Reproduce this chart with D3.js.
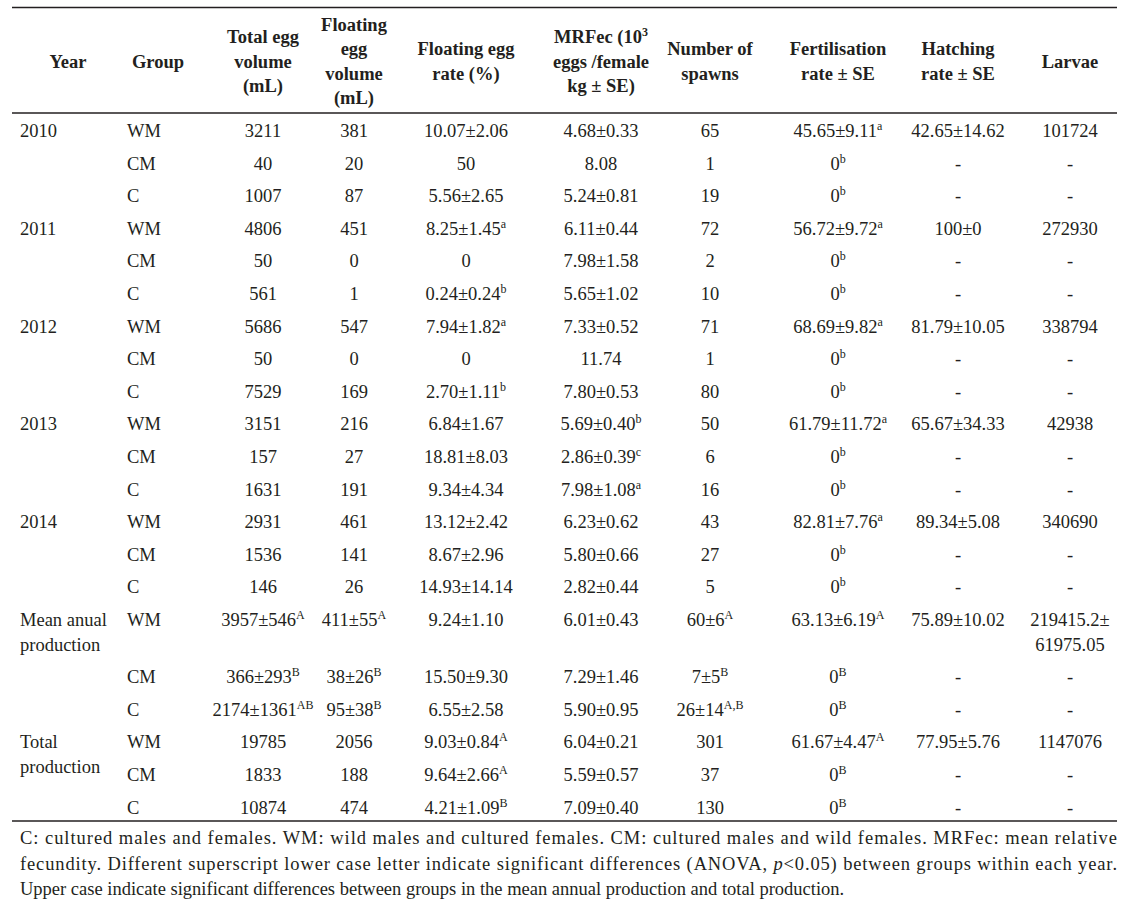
<!DOCTYPE html>
<html>
<head>
<meta charset="utf-8">
<script src="https://cdn.jsdelivr.net/npm/d3@7"></script>
<style>
  body { margin: 0; background: #fff; }
  svg { display: block; }
  text { font-family: "Liberation Serif", "Times New Roman", serif; fill: #231f20; }
</style>
</head>
<body>
<svg width="1127" height="903"></svg>
<script>
// Données du tableau ("^" = exposant, "|" = retour à la ligne)
const yearLabels = ["2010", "2011", "2012", "2013", "2014", "Mean anual|production", "Total|production"];
const groupLabels = ["WM", "CM", "C"];

const headers = [
  ["Year"], ["Group"], ["Total egg", "volume", "(mL)"], ["Floating", "egg", "volume", "(mL)"],
  ["Floating egg", "rate (%)"], ["MRFec (10^3", "eggs /female", "kg ± SE)"], ["Number of", "spawns"],
  ["Fertilisation", "rate ± SE"], ["Hatching", "rate ± SE"], ["Larvae"]
];

const totalEggVolume = ["3211", "40", "1007", "4806", "50", "561", "5686", "50", "7529", "3151", "157", "1631",
  "2931", "1536", "146", "3957±546^A", "366±293^B", "2174±1361^AB", "19785", "1833", "10874"];
const floatingEggVolume = ["381", "20", "87", "451", "0", "1", "547", "0", "169", "216", "27", "191",
  "461", "141", "26", "411±55^A", "38±26^B", "95±38^B", "2056", "188", "474"];
const floatingEggRate = ["10.07±2.06", "50", "5.56±2.65", "8.25±1.45^a", "0", "0.24±0.24^b", "7.94±1.82^a", "0",
  "2.70±1.11^b", "6.84±1.67", "18.81±8.03", "9.34±4.34", "13.12±2.42", "8.67±2.96", "14.93±14.14",
  "9.24±1.10", "15.50±9.30", "6.55±2.58", "9.03±0.84^A", "9.64±2.66^A", "4.21±1.09^B"];
const mrfec = ["4.68±0.33", "8.08", "5.24±0.81", "6.11±0.44", "7.98±1.58", "5.65±1.02", "7.33±0.52", "11.74",
  "7.80±0.53", "5.69±0.40^b", "2.86±0.39^c", "7.98±1.08^a", "6.23±0.62", "5.80±0.66", "2.82±0.44",
  "6.01±0.43", "7.29±1.46", "5.90±0.95", "6.04±0.21", "5.59±0.57", "7.09±0.40"];
const spawns = ["65", "1", "19", "72", "2", "10", "71", "1", "80", "50", "6", "16", "43", "27", "5",
  "60±6^A", "7±5^B", "26±14^A,B", "301", "37", "130"];
const fertilisation = ["45.65±9.11^a", "0^b", "0^b", "56.72±9.72^a", "0^b", "0^b", "68.69±9.82^a", "0^b", "0^b",
  "61.79±11.72^a", "0^b", "0^b", "82.81±7.76^a", "0^b", "0^b", "63.13±6.19^A", "0^B", "0^B",
  "61.67±4.47^A", "0^B", "0^B"];
const hatching = ["42.65±14.62", "-", "-", "100±0", "-", "-", "81.79±10.05", "-", "-", "65.67±34.33", "-", "-",
  "89.34±5.08", "-", "-", "75.89±10.02", "-", "-", "77.95±5.76", "-", "-"];
const larvae = ["101724", "-", "-", "272930", "-", "-", "338794", "-", "-", "42938", "-", "-",
  "340690", "-", "-", "219415.2±|61975.05", "-", "-", "1147076", "-", "-"];

const footerLines = [
  "C: cultured males and females. WM: wild males and cultured females. CM: cultured males and wild females. MRFec: mean relative",
  "fecundity. Different superscript lower case letter indicate significant differences (ANOVA, _p_<0.05) between groups within each year.",
  "Upper case indicate significant differences between groups in the mean annual production and total production."
];

// Mise en page
const svg = d3.select("svg");
const fontSize = 18.5, supSize = 12, lineGap = 24.5;
const left = 12, right = 1117;

const dataCols = [totalEggVolume, floatingEggVolume, floatingEggRate, mrfec, spawns, fertilisation, hatching, larvae];
const colKeys = d3.range(headers.length);
const xCol = d3.scaleOrdinal().domain(colKeys)
  .range([68, 158, 263, 354, 466, 601, 710, 838, 958, 1070]);

// Hauteurs de lignes (la ligne moyenne WM occupe deux lignes de texte)
const nRows = totalEggVolume.length;
const rowHeights = d3.range(nRows).map(i => i === 15 ? 32.6 + lineGap : 32.6);
const rowTop = [0, ...d3.cumsum(rowHeights)];
const yRow = d3.scaleLinear().domain([0, 1]).range([137, 138]);
const baseline = i => yRow(rowTop[i]);

function addText(g, x, y, str, anchor, bold) {
  const t = g.append("text")
    .attr("x", x).attr("y", y)
    .attr("text-anchor", anchor)
    .style("font-size", fontSize + "px")
    .style("font-weight", bold ? "bold" : "normal");
  const [main, sup] = str.split("^");
  t.append("tspan").text(main);
  if (sup) {
    t.append("tspan").attr("dy", -7).style("font-size", supSize + "px").text(sup);
  }
  return t;
}

// Lignes horizontales
[7.5, 113, 821].forEach(y => {
  svg.append("line").attr("x1", left).attr("x2", right).attr("y1", y).attr("y2", y)
    .attr("stroke", "#231f20").attr("stroke-width", 1.3);
});

// En-têtes
const head = svg.append("g");
headers.forEach((lines, c) => {
  const y0 = 61 - (lines.length - 1) * lineGap / 2 + 6.5;
  lines.forEach((l, k) => addText(head, xCol(c), y0 + k * lineGap, l, "middle", true));
});

// Colonne année
const body = svg.append("g");
yearLabels.forEach((lab, k) => {
  lab.split("|").forEach((l, j) => addText(body, 20, baseline(k * 3) + j * lineGap, l, "start", false));
});

// Colonne groupe
d3.range(nRows).forEach(i => addText(body, 127, baseline(i), groupLabels[i % 3], "start", false));

// Colonnes de valeurs
dataCols.forEach((vals, c) => {
  vals.forEach((v, i) => {
    v.split("|").forEach((l, j) => addText(body, xCol(c + 2), baseline(i) + j * lineGap, l, "middle", false));
  });
});

// Note de bas de tableau
const foot = svg.append("g");
footerLines.forEach((line, k) => {
  const t = foot.append("text")
    .attr("x", 20).attr("y", 844 + k * 25.5)
    .style("font-size", fontSize + "px");
  line.split("_").forEach((seg, j) => {
    t.append("tspan").style("font-style", j % 2 ? "italic" : "normal").text(seg);
  });
  if (k < 2) t.attr("textLength", right - 20).attr("lengthAdjust", "spacing");
});
</script>
</body>
</html>
